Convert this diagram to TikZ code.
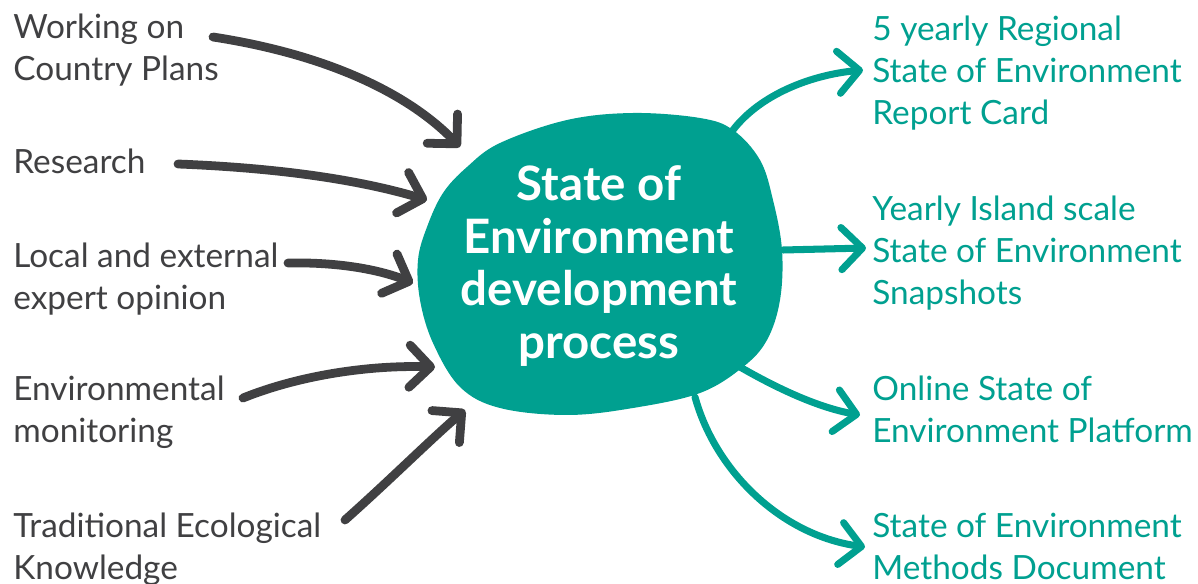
\documentclass[tikz,border=0pt]{standalone}
\usepackage{fontspec}
\setmainfont{Lato}
\usetikzlibrary{arrows.meta}
\definecolor{soeteal}{RGB}{0,160,144}
\definecolor{soegrey}{RGB}{64,64,66}
\begin{document}
\begin{tikzpicture}[x=0.02cm, y=-0.02cm,
  inlabel/.style={anchor=north west, inner sep=0, align=left, text=soegrey, font=\fontsize{19}{23.8}\selectfont},
  outlabel/.style={inlabel, text=soeteal},
  inarrow/.style={draw=soegrey, line width=5pt, line cap=round, -{Straight Barb[length=12pt, width=24pt, round]}},
  outarrow/.style={inarrow, draw=soeteal, line width=4pt}]
\useasboundingbox (0,0) rectangle (1198,584);
\fill[soeteal] plot[smooth cycle, tension=0.6] coordinates {(500,143) (567,120) (633,113) (700,118) (733,130) (760,160) (773,200) (782,250) (780,300) (767,340) (743,367) (700,393) (633,408) (567,415) (500,408) (460,387) (433,343) (420,300) (418,260) (427,227) (443,193) (467,167)};
\node[text=white, align=center, font=\fontsize{27}{29.9}\selectfont\bfseries] (proc) at (599,266) {State of\\Environment\\development\\process};
\node[inlabel] (plans) at (13,13.5) {Working on\\Country Plans};
\node[inlabel] (research) at (13,148.5) {Research};
\node[inlabel] (expert) at (13,242.5) {Local and external\\expert opinion};
\node[inlabel] (monitor) at (13,375.5) {Environmental\\monitoring};
\node[inlabel] (tek) at (13,512.5) {Traditional Ecological\\Knowledge};
\node[outlabel] (report) at (872,15.5) {5 yearly Regional\\State of Environment\\Report Card};
\node[outlabel] (snap) at (872,195.5) {Yearly Island scale\\State of Environment\\Snapshots};
\node[outlabel] (platform) at (872,375.5) {Online State of\\Environment Platform};
\node[outlabel] (methods) at (872,512.5) {State of Environment\\Methods Document};
\coordinate (plans-out) at (213,37);
\coordinate (plans-in) at (460,147);
\coordinate (research-out) at (178,164);
\coordinate (research-in) at (427,200);
\coordinate (expert-out) at (288,263);
\coordinate (expert-in) at (413,283);
\coordinate (monitor-out) at (243,398);
\coordinate (monitor-in) at (435,367);
\coordinate (tek-out) at (345,520);
\coordinate (tek-in) at (465,410);
\coordinate (report-out) at (733,130);
\coordinate (report-in) at (863,70);
\coordinate (snap-out) at (783,250);
\coordinate (snap-in) at (866,248);
\coordinate (platform-out) at (740,367);
\coordinate (platform-in) at (860,415);
\coordinate (methods-out) at (695,397);
\coordinate (methods-in) at (865,547);
\draw[inarrow] (plans-out) .. controls (330,55) and (410,95) .. (plans-in);
\draw[inarrow] (research-out) .. controls (280,168) and (360,180) .. (research-in);
\draw[inarrow] (expert-out) .. controls (340,262) and (380,270) .. (expert-in);
\draw[inarrow] (monitor-out) .. controls (300,375) and (370,365) .. (monitor-in);
\draw[inarrow] (tek-out) .. controls (390,480) and (430,440) .. (tek-in);
\draw[outarrow] (report-out) .. controls (760,95) and (810,75) .. (report-in);
\draw[outarrow] (snap-out) -- (snap-in);
\draw[outarrow] (platform-out) .. controls (780,390) and (820,408) .. (platform-in);
\draw[outarrow] (methods-out) .. controls (715,470) and (780,535) .. (methods-in);
\end{tikzpicture}
\end{document}
